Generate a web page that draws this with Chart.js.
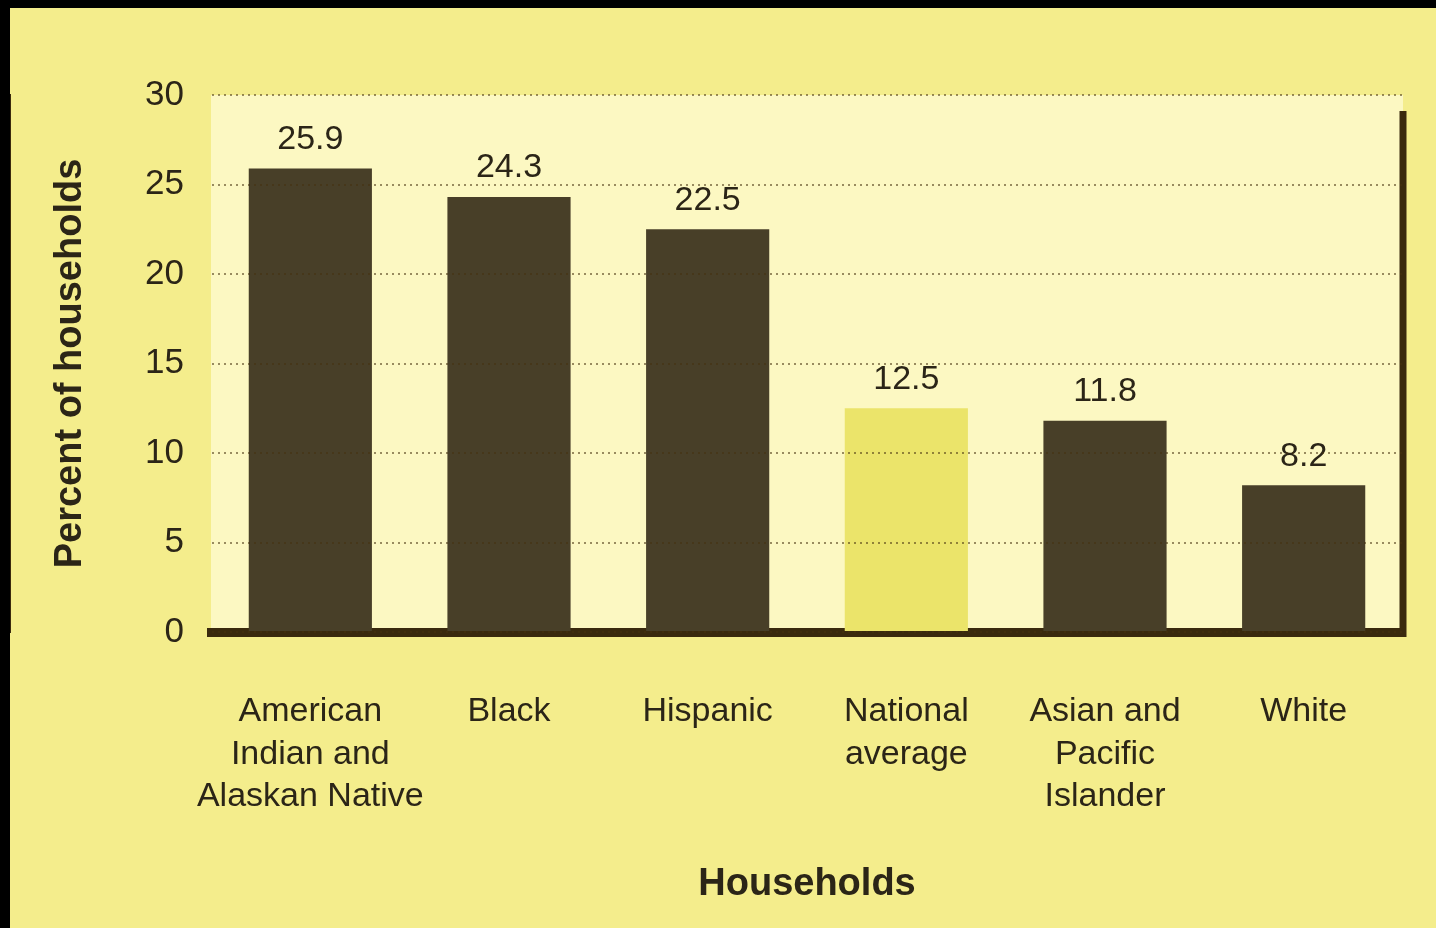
<!DOCTYPE html>
<html>
<head>
  <title>Percent of households</title>
  <script src="https://cdn.jsdelivr.net/npm/chart.js"></script>
  <style>
    html, body { margin: 0; padding: 0; background-color: #000; }
    .paper { position: absolute; left: 10px; top: 8px; width: 1426px; height: 920px; background-color: #f4ed8c; }
    canvas { display: block; }
  </style>
</head>
<body>
  <div class="paper">
    <canvas id="householdChart" width="1426" height="920"></canvas>
  </div>

  <script>
    // data
    const groups = [
      ['American', 'Indian and', 'Alaskan Native'],
      'Black',
      'Hispanic',
      ['National', 'average'],
      ['Asian and', 'Pacific', 'Islander'],
      'White'
    ];
    const percents = [25.9, 24.3, 22.5, 12.5, 11.8, 8.2];
    const valueLabels = ['25.9', '24.3', '22.5', '12.5', '11.8', '8.2'];
    const yTicks = [0, 5, 10, 15, 20, 25, 30];

    const darkBar = '#483f28';
    const avgBar = '#ebe46a';
    const inkColor = '#2b2517';
    const fontFamily = '"Liberation Sans", Arial, sans-serif';

    // lighter plot panel behind the bars
    const panelPlugin = {
      id: 'panel',
      beforeDraw(chart) {
        const { ctx, chartArea } = chart;
        ctx.save();
        ctx.fillStyle = '#fcf8c2';
        ctx.fillRect(chartArea.left, chartArea.top, chartArea.right - chartArea.left, chartArea.bottom - chartArea.top);
        ctx.restore();
      }
    };

    // values above bars and the dark right frame
    const labelPlugin = {
      id: 'valueLabels',
      afterDatasetsDraw(chart) {
        const { ctx, chartArea } = chart;
        const meta = chart.getDatasetMeta(0);
        ctx.save();
        ctx.font = '34px ' + fontFamily;
        ctx.fillStyle = inkColor;
        ctx.textAlign = 'center';
        ctx.textBaseline = 'bottom';
        meta.data.forEach((bar, i) => {
          ctx.fillText(valueLabels[i], bar.x, bar.y - 12);
        });
        ctx.strokeStyle = '#3a2a0e';
        ctx.lineWidth = 7;
        ctx.beginPath();
        ctx.moveTo(chartArea.right, chartArea.top + 16);
        ctx.lineTo(chartArea.right, chartArea.bottom + 5);
        ctx.stroke();
        ctx.restore();
      }
    };

    const ctx = document.getElementById('householdChart').getContext('2d');
    new Chart(ctx, {
      type: 'bar',
      data: {
        labels: groups,
        datasets: [{
          data: percents,
          backgroundColor: percents.map((v, i) => i === 3 ? avgBar : darkBar),
          barPercentage: 0.62,
          categoryPercentage: 1.0
        }]
      },
      plugins: [panelPlugin, labelPlugin],
      options: {
        responsive: false,
        animation: false,
        layout: { padding: { left: 0, top: 87, right: 33, bottom: 0 } },
        plugins: {
          legend: { display: false },
          tooltip: { enabled: false }
        },
        scales: {
          x: {
            afterFit(scale) { scale.height = 296; },
            grid: { display: false, drawTicks: false },
            border: { display: true, color: '#3a2a0e', width: 9 },
            ticks: {
              padding: 59,
              autoSkip: false,
              maxRotation: 0,
              minRotation: 0,
              color: inkColor,
              font: { family: fontFamily, size: 34, lineHeight: 1.24 }
            },
            title: {
              display: true,
              text: 'Households',
              color: inkColor,
              font: { family: fontFamily, size: 38, weight: 'bold' },
              padding: { top: 0, bottom: 21 }
            }
          },
          y: {
            min: 0,
            max: 30,
            afterFit(scale) { scale.width = 201; },
            afterBuildTicks(scale) { scale.ticks = yTicks.map(v => ({ value: v })); },
            grid: {
              z: 1,
              color: 'rgba(70, 50, 15, 0.55)',
              lineWidth: 2,
              drawTicks: false
            },
            border: { display: true, color: '#3a2a0e', width: 2, dash: [2, 4] },
            ticks: {
              padding: 27,
              color: inkColor,
              font: { family: fontFamily, size: 35 }
            },
            title: {
              display: true,
              text: 'Percent of households',
              color: inkColor,
              font: { family: fontFamily, size: 38, weight: 'bold' },
              padding: { top: 38, bottom: 0 }
            }
          }
        }
      }
    });
  </script>
</body>
</html>
